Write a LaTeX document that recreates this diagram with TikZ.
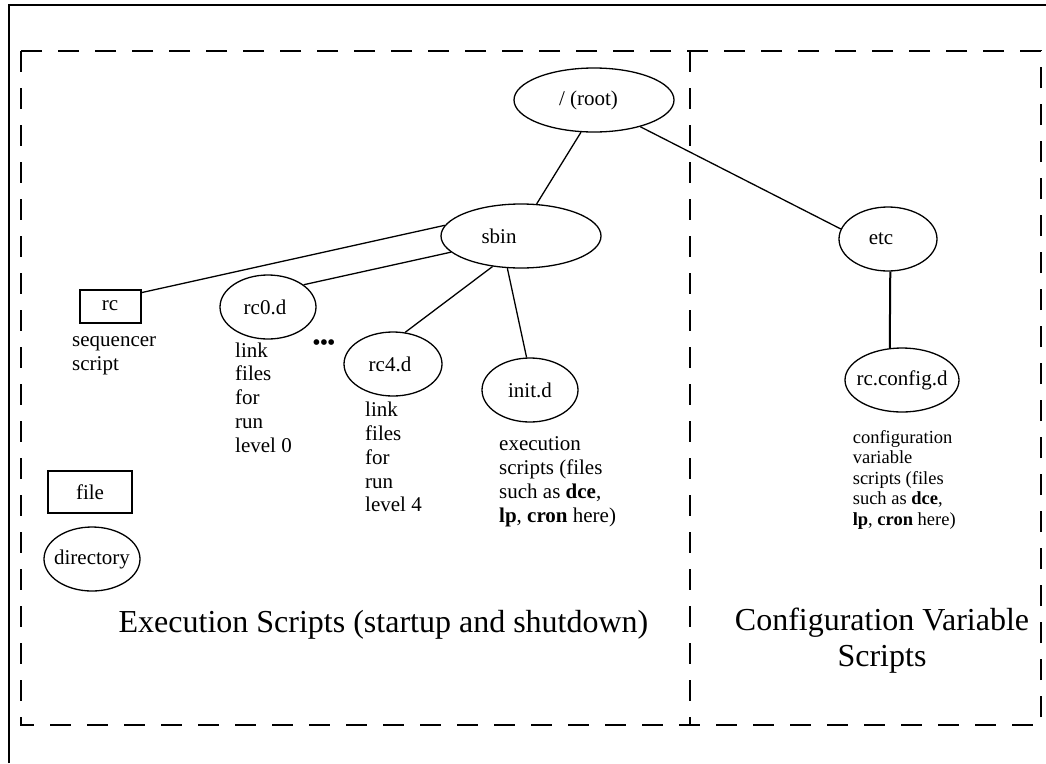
\documentclass[tikz,border=0pt]{standalone}
\usepackage{fontspec}
\setmainfont{Liberation Serif}
\usetikzlibrary{shapes.geometric,calc}
\begin{document}
\begin{tikzpicture}[x=1pt,y=-1pt,
  dir/.style={ellipse,draw,line width=1.3pt,inner sep=0pt,font=\fontsize{21}{24}\selectfont},
  fil/.style={rectangle,draw,line width=2pt,inner sep=0pt,font=\fontsize{21}{24}\selectfont},
  conn/.style={line width=1.3pt},
  lbl/.style={anchor=base west,inner sep=0pt,align=left,font=\fontsize{21}{23.7}\selectfont},
  region/.style={line width=2.2pt,dash pattern=on 21pt off 16pt},
  title/.style={inner sep=0pt,font=\fontsize{32}{36}\selectfont,align=center}]
\useasboundingbox (0,0) rectangle (1046,763);
\fill[white] (0,0) rectangle (1046,763);
\draw[line width=2pt] (9,763) -- (9,5) -- (1046,5);
\draw[region] (21,51) rectangle (1041,725);
\draw[region] (690,51) -- (690,725);

\node[dir,minimum width=160pt,minimum height=64pt] (root) at (594,100) {\makebox[0pt]{/ (root)\hspace*{11pt}}};
\node[dir,minimum width=160pt,minimum height=64pt] (sbin) at (521,236) {\makebox[0pt]{sbin\hspace*{44pt}}};
\node[dir,minimum width=98pt,minimum height=64pt] (etc) at (888,239) {\makebox[0pt]{etc\hspace*{14pt}}};
\node[dir,minimum width=114pt,minimum height=64pt] (rcconfig) at (902,380) {\makebox[0pt]{rc.config.d}};
\node[dir,minimum width=96pt,minimum height=64pt] (rc0) at (268,307) {\makebox[0pt]{rc0.d\hspace*{6pt}}};
\node[dir,minimum width=98pt,minimum height=64pt] (rc4) at (393,364) {\makebox[0pt]{rc4.d\hspace*{6pt}}};
\node[dir,minimum width=96pt,minimum height=64pt] (init) at (530,390) {\makebox[0pt]{init.d}};
\node[dir,minimum width=96pt,minimum height=64pt] (directory) at (92,559) {\makebox[0pt]{directory}};
\node[fil,minimum width=61pt,minimum height=33pt] (rc) at (110,306) {rc};
\node[fil,minimum width=84pt,minimum height=42pt] (file) at (90,492) {file};

\draw[conn] (root.248) -- (sbin.64);
\draw[conn] (root.330) -- (etc.168);
\draw[conn] (sbin.172) -- (rc.23);
\draw[conn] (sbin.193) -- (rc0.32);
\draw[conn] (sbin.227) -- (rc4.69);
\draw[conn] (sbin.247) -- (init.96);
\draw[line width=2pt] (etc.274) -- (rcconfig.111);

\node[lbl] (seqlbl) at (72,370) {sequencer\\script};
\node[lbl] (rc0lbl) at (235,452) {link\\files\\for\\run\\level 0};
\node[lbl] (rc4lbl) at (365,511.7) {link\\files\\for\\run\\level 4};
\node[lbl,font=\fontsize{21}{24}\selectfont] (initlbl) at (499,522) {execution\\scripts (files\\such as \textbf{dce},\\\textbf{lp}, \textbf{cron} here)};
\node[lbl,font=\fontsize{18.5}{20.5}\selectfont] (cfglbl) at (852.6,525) {configuration\\variable\\scripts (files\\such as \textbf{dce},\\\textbf{lp}, \textbf{cron} here)};
\node[inner sep=0pt,font=\fontsize{21}{24}\selectfont\bfseries] (dots) at (324,345) {•••};

\node[title,anchor=base] (exectitle) at (383.5,632) {Execution Scripts (startup and shutdown)};
\node[title,anchor=base] (cfgtitle) at (882,666) {Configuration Variable\\Scripts};
\end{tikzpicture}
\end{document}
